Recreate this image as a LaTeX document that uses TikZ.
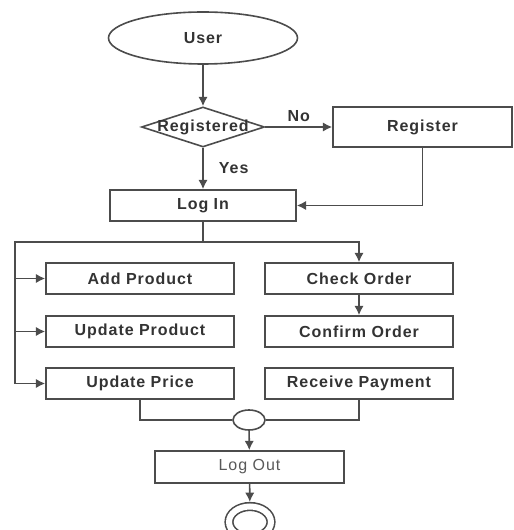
\documentclass[tikz,border=0pt]{standalone}
\usepackage{fontspec}
\setmainfont[LetterSpace=6]{Liberation Sans}
\usetikzlibrary{shapes.geometric,arrows.meta}

\begin{document}
\begin{tikzpicture}[x=0.75pt,y=-0.75pt,line width=1.2pt,
		every node/.style={text=black!80,font=\fontsize{12}{14}\selectfont\bfseries},
		box/.style={draw=black!70,rectangle,inner sep=0pt,minimum width=141pt,minimum height=23.25pt},
		flow/.style={draw=black!70,-{Latex[length=7pt,width=7pt]}},
		line/.style={draw=black!70}]
		\useasboundingbox (0,0) rectangle (513,530);
		% start and question
		\node[draw=black!70,ellipse,inner sep=0pt,minimum width=141.75pt,minimum height=39pt] (user) at (203,38) {User};
		\node[draw=black!70,diamond,inner sep=0pt,minimum width=92.25pt,minimum height=30pt] (reg) at (203,127) {\makebox[0pt]{Registered}};
		\node[box,minimum width=134.25pt,minimum height=30pt] (register) at (422.5,127) {Register};
		\node[box,minimum width=139.5pt] (login) at (203,205.5) {Log In};
		% admin tasks
		\node[box] (add) at (140,278.5) {Add Product};
		\node[box] (upd) at (140,331.5) {Update Product};
		\node[box] (price) at (140,383.5) {Update Price};
		\node[box] (check) at (359,278.5) {Check Order};
		\node[box] (confirm) at (359,331.5) {Confirm Order};
		\node[box] (pay) at (359,383.5) {Receive Payment};
		% end
		\node[draw=black!70,ellipse,inner sep=0pt,minimum width=24pt,minimum height=15pt] (join) at (249,420) {};
		\node[box,minimum width=141.75pt,minimum height=24pt,text=black!65,font=\fontsize{12}{14}\selectfont] (logout) at (249.5,467) {Log Out};
		\node[draw=black!70,ellipse,double,double distance=4.5pt,inner sep=0pt,outer sep=3.4pt,minimum width=31.5pt,minimum height=23.25pt] (stop) at (250,522) {};
		\coordinate (split) at (203,242);
		\coordinate (rail) at (15,242);

		\draw[flow] (user) -- (reg);
		\draw[flow] (reg) -- node[above] {No} (register);
		\draw[flow] (reg) -- node[right=8pt] {Yes} (login);
		\draw[flow] (register.south) |- (login.east);
		\draw[line] (login.south) -- (split);
		\draw[flow] (split) -| (check.north);
		\draw[line] (split) -- (rail) -- (rail |- price.west);
		\draw[flow] (rail |- add.west) -- (add.west);
		\draw[flow] (rail |- upd.west) -- (upd.west);
		\draw[flow] (rail |- price.west) -- (price.west);
		\draw[flow] (check) -- (confirm);
		\draw[line] (price.south) |- (join.west);
		\draw[line] (pay.south) |- (join.east);
		\draw[flow] (join) -- (logout);
		\draw[flow] (logout) -- (stop);
	\end{tikzpicture}
\end{document}
